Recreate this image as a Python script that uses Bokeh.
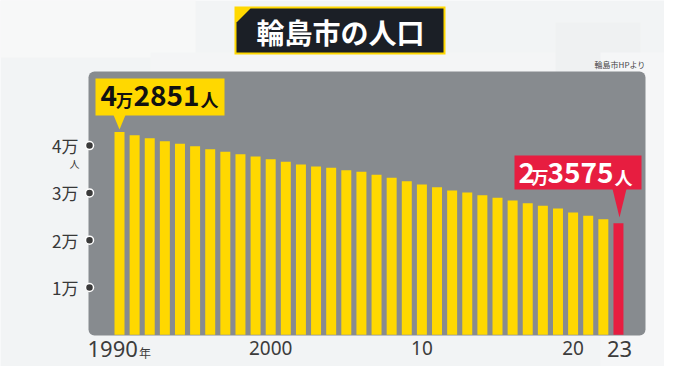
from bokeh.plotting import figure
from bokeh.models import Range1d, BoxAnnotation
from bokeh.core.properties import value
from bokeh.embed import file_html
from bokeh.resources import INLINE

# ---- data ----
years = list(range(1990, 2024))
population = [42851, 42200, 41570, 40930, 40380, 39870, 39240, 38690, 38180, 37700,
              37120, 36580, 36000, 35580, 35310, 34800, 34460, 33830, 33190, 32470,
              31780, 31210, 30510, 30080, 29510, 28960, 28390, 27820, 27270, 26700,
              25860, 25160, 24440, 23575]
y_ticks = [10000, 20000, 30000, 40000]
y_tick_labels = ["1万", "2万", "3万", "4万"]
x_tick_years = [1990, 2000, 2010, 2020, 2023]
x_tick_labels = ["1990", "2000", "10", "20", "23"]
title = "輪島市の人口"
source = "輪島市HPより"

# ---- layout helpers (reference pixel -> data) ----
W, H = 664, 366
DY = 8                # vertical shift so everything fits
PX = 15.12            # px per year
PY = 47.3 / 10000     # px per person
x0 = 1990 - 119 / PX
y0 = -(H - (342.3 - DY)) / PY

def X(rx):
    return x0 + rx / PX

def Y(ry):
    return y0 + (H - (ry - DY)) / PY

YELLOW = "#ffd800"
RED = "#e71d40"
PANEL = "#878b8f"
BG = "#f2f4f5"
CJK = value("Noto Sans CJK JP")
LAT = value("Noto Sans")

p = figure(width=W, height=H, x_range=Range1d(x0, x0 + W / PX),
           y_range=Range1d(y0, y0 + H / PY), output_backend="svg",
           toolbar_location=None, tools="", min_border=0,
           x_axis_location=None, y_axis_location=None)
p.grid.visible = False
p.outline_line_color = None
p.background_fill_color = BG
p.border_fill_color = BG

# subtle background blocks
for (l, r, t, b, c) in [(0, 195, 0, 65, "#f7f8f8"), (150, 600, 60, 300, "#f4f5f6"),
                        (555, 640, 30, 130, "#eff1f2"), (600, 680, 60, 382, "#f5f6f7")]:
    p.add_layout(BoxAnnotation(left=X(l), right=X(r), top=Y(t), bottom=Y(b),
                               fill_color=c, fill_alpha=1, line_color=None, level="underlay"))

# grey panel
p.add_layout(BoxAnnotation(left=X(88), right=X(645), top=Y(79), bottom=Y(343),
                           fill_color=PANEL, fill_alpha=1, line_color=None,
                           border_radius=6, level="underlay"))

# bars
colors = [YELLOW] * (len(years) - 1) + [RED]
p.vbar(x=years, top=population, bottom=0, width=0.66, fill_color=colors, line_color=None)

# y axis dots and labels
p.scatter(x=[X(89)] * len(y_ticks), y=y_ticks, size=8, fill_color="#3a3a3a",
          line_color="white", line_width=1.5)
p.text(x=[X(78)] * len(y_ticks), y=y_ticks, text=y_tick_labels, text_font=CJK,
       text_font_size="17px", text_color="#383838", text_align="right",
       text_baseline="middle")
p.text(x=[X(74)], y=[Y(171)], text=["人"], text_font=CJK, text_font_size="10px",
       text_color="#383838", text_align="center", text_baseline="middle")

# x labels
p.text(x=[X(87)], y=[Y(356.3)], text=[x_tick_labels[0]], text_font=LAT,
       text_font_size="22px", text_color="#3c3c3c", text_align="left",
       text_baseline="middle")
p.text(x=[X(138.5)], y=[Y(359.7)], text=["年"], text_font=CJK, text_font_size="12px",
       text_color="#3c3c3c", text_align="left", text_baseline="middle")
p.text(x=x_tick_years[1:4], y=[Y(355.7)] * 3, text=x_tick_labels[1:4], text_font=LAT,
       text_font_size="19px", text_color="#3c3c3c", text_align="center",
       text_baseline="middle")
p.text(x=[x_tick_years[4]], y=[Y(356.3)], text=[x_tick_labels[4]], text_font=LAT,
       text_font_size="22px", text_color="#3c3c3c", text_align="center",
       text_baseline="middle", x_offset=1)

# title box
p.patch([X(234), X(445), X(445), X(234)], [Y(14), Y(14), Y(62), Y(62)],
        fill_color=YELLOW, line_color=None)
p.patch([X(250), X(443), X(443), X(236), X(236)], [Y(16), Y(16), Y(60), Y(60), Y(30)],
        fill_color="#1b1f26", line_color=None)
p.text(x=[X(340)], y=[Y(39)], text=[title], text_font=CJK, text_font_size="28px",
       text_font_style="bold", text_color="white", text_align="center",
       text_baseline="middle")

# source
p.text(x=[X(645)], y=[Y(72)], text=[source], text_font=CJK, text_font_size="8px",
       text_color="#444444", text_align="right", text_baseline="middle")

def callout_parts(v):
    return str(v // 10000), str(v % 10000)

# yellow callout (first year)
p.quad(left=X(95), right=X(224), top=Y(86), bottom=Y(123), fill_color=YELLOW, line_color=None)
p.patch([X(113), X(125), X(119)], [Y(122.5), Y(122.5), Y(137)], fill_color=YELLOW, line_color=None)
a, b = callout_parts(population[0])
for txt, rx, ry, s in [(a, 100, 102.9, "28px"), ("万", 115.5, 107, "17px"),
                       (b, 133, 102.9, "28px"), ("人", 200, 106.6, "18px")]:
    p.text(x=[X(rx)], y=[Y(ry)], text=[txt], text_font=CJK, text_font_size=s,
           text_font_style="bold", text_color="#111111", text_align="left",
           text_baseline="middle")

# red callout (last year)
p.quad(left=X(514), right=X(641), top=Y(163), bottom=Y(197), fill_color=RED, line_color=None)
p.patch([X(612), X(626), X(619)], [Y(196.5), Y(196.5), Y(225)], fill_color=RED, line_color=None)
a, b = callout_parts(population[-1])
for txt, rx, ry, s in [(a, 518, 180.3, "28px"), ("万", 531, 184.4, "17px"),
                       (b, 547, 180.3, "28px"), ("人", 614, 184, "18px")]:
    p.text(x=[X(rx)], y=[Y(ry)], text=[txt], text_font=CJK, text_font_size=s,
           text_font_style="bold", text_color="white", text_align="left",
           text_baseline="middle")

open("out.html", "w").write(file_html(p, INLINE))
